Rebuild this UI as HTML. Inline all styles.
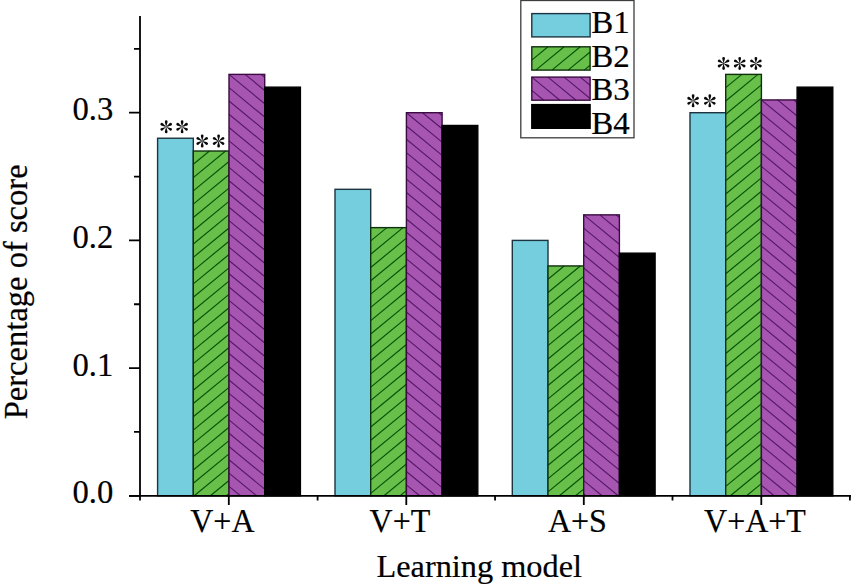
<!DOCTYPE html>
<html><head><meta charset="utf-8"><style>
html,body{margin:0;padding:0;background:#fff;overflow:hidden;}
svg{display:block;}
text{font-family:"Liberation Serif",serif;fill:#000;stroke:#000;stroke-width:0.2px;}
</style></head><body>
<svg width="851" height="587" viewBox="0 0 851 587">
<defs><g id="ast"><circle r="0.55"/><path d="M-0.25,-0.6C-0.5,-2.5 -1.35,-3.9 -1.35,-5.15A1.35,1.35 0 0 1 1.35,-5.15C1.35,-3.9 0.5,-2.5 0.25,-0.6Z" transform="rotate(0)"/><path d="M-0.25,-0.6C-0.5,-2.5 -1.35,-3.9 -1.35,-5.15A1.35,1.35 0 0 1 1.35,-5.15C1.35,-3.9 0.5,-2.5 0.25,-0.6Z" transform="rotate(60)"/><path d="M-0.25,-0.6C-0.5,-2.5 -1.35,-3.9 -1.35,-5.15A1.35,1.35 0 0 1 1.35,-5.15C1.35,-3.9 0.5,-2.5 0.25,-0.6Z" transform="rotate(120)"/><path d="M-0.25,-0.6C-0.5,-2.5 -1.35,-3.9 -1.35,-5.15A1.35,1.35 0 0 1 1.35,-5.15C1.35,-3.9 0.5,-2.5 0.25,-0.6Z" transform="rotate(180)"/><path d="M-0.25,-0.6C-0.5,-2.5 -1.35,-3.9 -1.35,-5.15A1.35,1.35 0 0 1 1.35,-5.15C1.35,-3.9 0.5,-2.5 0.25,-0.6Z" transform="rotate(240)"/><path d="M-0.25,-0.6C-0.5,-2.5 -1.35,-3.9 -1.35,-5.15A1.35,1.35 0 0 1 1.35,-5.15C1.35,-3.9 0.5,-2.5 0.25,-0.6Z" transform="rotate(300)"/></g></defs>
<rect x="157.6" y="138.24" width="35.7" height="357.56" fill="#75cede"/><rect x="157.6" y="138.24" width="35.7" height="357.56" fill="none" stroke="#1c3440" stroke-width="1.4"/><rect x="193.3" y="151.01" width="35.7" height="344.79" fill="#68bf4a"/><path d="M193.3,164.3L209.45,151.01M193.3,177.59L225.6,151.01M193.3,190.88L229,161.5M193.3,204.17L229,174.79M193.3,217.46L229,188.08M193.3,230.75L229,201.37M193.3,244.04L229,214.66M193.3,257.33L229,227.95M193.3,270.62L229,241.24M193.3,283.91L229,254.53M193.3,297.2L229,267.82M193.3,310.49L229,281.11M193.3,323.78L229,294.4M193.3,337.07L229,307.69M193.3,350.36L229,320.98M193.3,363.65L229,334.27M193.3,376.94L229,347.56M193.3,390.23L229,360.85M193.3,403.52L229,374.14M193.3,416.81L229,387.43M193.3,430.1L229,400.72M193.3,443.39L229,414.01M193.3,456.68L229,427.3M193.3,469.97L229,440.59M193.3,483.26L229,453.88M194.21,495.8L229,467.17M210.36,495.8L229,480.46M226.51,495.8L229,493.75" stroke="#075207" stroke-width="1.15" fill="none"/><rect x="193.3" y="151.01" width="35.7" height="344.79" fill="none" stroke="#0f300f" stroke-width="1.4"/><rect x="229" y="74.39" width="35.7" height="421.41" fill="#a656b0"/><path d="M261.3,74.39L264.7,77.19M245.15,74.39L264.7,90.48M229,74.39L264.7,103.77M229,87.68L264.7,117.06M229,100.97L264.7,130.35M229,114.26L264.7,143.64M229,127.55L264.7,156.93M229,140.84L264.7,170.22M229,154.13L264.7,183.51M229,167.42L264.7,196.8M229,180.71L264.7,210.09M229,194L264.7,223.38M229,207.29L264.7,236.67M229,220.58L264.7,249.96M229,233.87L264.7,263.25M229,247.16L264.7,276.54M229,260.45L264.7,289.83M229,273.74L264.7,303.12M229,287.03L264.7,316.41M229,300.32L264.7,329.7M229,313.61L264.7,342.99M229,326.9L264.7,356.28M229,340.19L264.7,369.57M229,353.48L264.7,382.86M229,366.77L264.7,396.15M229,380.06L264.7,409.44M229,393.35L264.7,422.73M229,406.64L264.7,436.02M229,419.93L264.7,449.31M229,433.22L264.7,462.6M229,446.51L264.7,475.89M229,459.8L264.7,489.18M229,473.09L256.6,495.8M229,486.38L240.45,495.8" stroke="#581868" stroke-width="1.15" fill="none"/><rect x="229" y="74.39" width="35.7" height="421.41" fill="none" stroke="#3a0c42" stroke-width="1.4"/><rect x="264.7" y="87.16" width="35.7" height="408.64" fill="#000000"/><rect x="264.7" y="87.16" width="35.7" height="408.64" fill="none" stroke="#000000" stroke-width="1.4"/><rect x="335" y="189.32" width="35.7" height="306.48" fill="#75cede"/><rect x="335" y="189.32" width="35.7" height="306.48" fill="none" stroke="#1c3440" stroke-width="1.4"/><rect x="370.7" y="227.63" width="35.7" height="268.17" fill="#68bf4a"/><path d="M370.7,240.92L386.85,227.63M370.7,254.21L403,227.63M370.7,267.5L406.4,238.12M370.7,280.79L406.4,251.41M370.7,294.08L406.4,264.7M370.7,307.37L406.4,277.99M370.7,320.66L406.4,291.28M370.7,333.95L406.4,304.57M370.7,347.24L406.4,317.86M370.7,360.53L406.4,331.15M370.7,373.82L406.4,344.44M370.7,387.11L406.4,357.73M370.7,400.4L406.4,371.02M370.7,413.69L406.4,384.31M370.7,426.98L406.4,397.6M370.7,440.27L406.4,410.89M370.7,453.56L406.4,424.18M370.7,466.85L406.4,437.47M370.7,480.14L406.4,450.76M370.7,493.43L406.4,464.05M383.97,495.8L406.4,477.34M400.12,495.8L406.4,490.63" stroke="#075207" stroke-width="1.15" fill="none"/><rect x="370.7" y="227.63" width="35.7" height="268.17" fill="none" stroke="#0f300f" stroke-width="1.4"/><rect x="406.4" y="112.7" width="35.7" height="383.1" fill="#a656b0"/><path d="M438.7,112.7L442.1,115.5M422.55,112.7L442.1,128.79M406.4,112.7L442.1,142.08M406.4,125.99L442.1,155.37M406.4,139.28L442.1,168.66M406.4,152.57L442.1,181.95M406.4,165.86L442.1,195.24M406.4,179.15L442.1,208.53M406.4,192.44L442.1,221.82M406.4,205.73L442.1,235.11M406.4,219.02L442.1,248.4M406.4,232.31L442.1,261.69M406.4,245.6L442.1,274.98M406.4,258.89L442.1,288.27M406.4,272.18L442.1,301.56M406.4,285.47L442.1,314.85M406.4,298.76L442.1,328.14M406.4,312.05L442.1,341.43M406.4,325.34L442.1,354.72M406.4,338.63L442.1,368.01M406.4,351.92L442.1,381.3M406.4,365.21L442.1,394.59M406.4,378.5L442.1,407.88M406.4,391.79L442.1,421.17M406.4,405.08L442.1,434.46M406.4,418.37L442.1,447.75M406.4,431.66L442.1,461.04M406.4,444.95L442.1,474.33M406.4,458.24L442.1,487.62M406.4,471.53L435.89,495.8M406.4,484.82L419.74,495.8" stroke="#581868" stroke-width="1.15" fill="none"/><rect x="406.4" y="112.7" width="35.7" height="383.1" fill="none" stroke="#3a0c42" stroke-width="1.4"/><rect x="442.1" y="125.47" width="35.7" height="370.33" fill="#000000"/><rect x="442.1" y="125.47" width="35.7" height="370.33" fill="none" stroke="#000000" stroke-width="1.4"/><rect x="512.3" y="240.4" width="35.7" height="255.4" fill="#75cede"/><rect x="512.3" y="240.4" width="35.7" height="255.4" fill="none" stroke="#1c3440" stroke-width="1.4"/><rect x="548" y="265.94" width="35.7" height="229.86" fill="#68bf4a"/><path d="M548,279.23L564.15,265.94M548,292.52L580.3,265.94M548,305.81L583.7,276.43M548,319.1L583.7,289.72M548,332.39L583.7,303.01M548,345.68L583.7,316.3M548,358.97L583.7,329.59M548,372.26L583.7,342.88M548,385.55L583.7,356.17M548,398.84L583.7,369.46M548,412.13L583.7,382.75M548,425.42L583.7,396.04M548,438.71L583.7,409.33M548,452L583.7,422.62M548,465.29L583.7,435.91M548,478.58L583.7,449.2M548,491.87L583.7,462.49M559.37,495.8L583.7,475.78M575.52,495.8L583.7,489.07" stroke="#075207" stroke-width="1.15" fill="none"/><rect x="548" y="265.94" width="35.7" height="229.86" fill="none" stroke="#0f300f" stroke-width="1.4"/><rect x="583.7" y="214.86" width="35.7" height="280.94" fill="#a656b0"/><path d="M616,214.86L619.4,217.66M599.85,214.86L619.4,230.95M583.7,214.86L619.4,244.24M583.7,228.15L619.4,257.53M583.7,241.44L619.4,270.82M583.7,254.73L619.4,284.11M583.7,268.02L619.4,297.4M583.7,281.31L619.4,310.69M583.7,294.6L619.4,323.98M583.7,307.89L619.4,337.27M583.7,321.18L619.4,350.56M583.7,334.47L619.4,363.85M583.7,347.76L619.4,377.14M583.7,361.05L619.4,390.43M583.7,374.34L619.4,403.72M583.7,387.63L619.4,417.01M583.7,400.92L619.4,430.3M583.7,414.21L619.4,443.59M583.7,427.5L619.4,456.88M583.7,440.79L619.4,470.17M583.7,454.08L619.4,483.46M583.7,467.37L618.25,495.8M583.7,480.66L602.1,495.8M583.7,493.95L585.95,495.8" stroke="#581868" stroke-width="1.15" fill="none"/><rect x="583.7" y="214.86" width="35.7" height="280.94" fill="none" stroke="#3a0c42" stroke-width="1.4"/><rect x="619.4" y="253.17" width="35.7" height="242.63" fill="#000000"/><rect x="619.4" y="253.17" width="35.7" height="242.63" fill="none" stroke="#000000" stroke-width="1.4"/><rect x="690" y="112.7" width="35.7" height="383.1" fill="#75cede"/><rect x="690" y="112.7" width="35.7" height="383.1" fill="none" stroke="#1c3440" stroke-width="1.4"/><rect x="725.7" y="74.39" width="35.7" height="421.41" fill="#68bf4a"/><path d="M725.7,87.68L741.85,74.39M725.7,100.97L758,74.39M725.7,114.26L761.4,84.88M725.7,127.55L761.4,98.17M725.7,140.84L761.4,111.46M725.7,154.13L761.4,124.75M725.7,167.42L761.4,138.04M725.7,180.71L761.4,151.33M725.7,194L761.4,164.62M725.7,207.29L761.4,177.91M725.7,220.58L761.4,191.2M725.7,233.87L761.4,204.49M725.7,247.16L761.4,217.78M725.7,260.45L761.4,231.07M725.7,273.74L761.4,244.36M725.7,287.03L761.4,257.65M725.7,300.32L761.4,270.94M725.7,313.61L761.4,284.23M725.7,326.9L761.4,297.52M725.7,340.19L761.4,310.81M725.7,353.48L761.4,324.1M725.7,366.77L761.4,337.39M725.7,380.06L761.4,350.68M725.7,393.35L761.4,363.97M725.7,406.64L761.4,377.26M725.7,419.93L761.4,390.55M725.7,433.22L761.4,403.84M725.7,446.51L761.4,417.13M725.7,459.8L761.4,430.42M725.7,473.09L761.4,443.71M725.7,486.38L761.4,457M730.4,495.8L761.4,470.29M746.55,495.8L761.4,483.58" stroke="#075207" stroke-width="1.15" fill="none"/><rect x="725.7" y="74.39" width="35.7" height="421.41" fill="none" stroke="#0f300f" stroke-width="1.4"/><rect x="761.4" y="99.93" width="35.7" height="395.87" fill="#a656b0"/><path d="M793.7,99.93L797.1,102.73M777.55,99.93L797.1,116.02M761.4,99.93L797.1,129.31M761.4,113.22L797.1,142.6M761.4,126.51L797.1,155.89M761.4,139.8L797.1,169.18M761.4,153.09L797.1,182.47M761.4,166.38L797.1,195.76M761.4,179.67L797.1,209.05M761.4,192.96L797.1,222.34M761.4,206.25L797.1,235.63M761.4,219.54L797.1,248.92M761.4,232.83L797.1,262.21M761.4,246.12L797.1,275.5M761.4,259.41L797.1,288.79M761.4,272.7L797.1,302.08M761.4,285.99L797.1,315.37M761.4,299.28L797.1,328.66M761.4,312.57L797.1,341.95M761.4,325.86L797.1,355.24M761.4,339.15L797.1,368.53M761.4,352.44L797.1,381.82M761.4,365.73L797.1,395.11M761.4,379.02L797.1,408.4M761.4,392.31L797.1,421.69M761.4,405.6L797.1,434.98M761.4,418.89L797.1,448.27M761.4,432.18L797.1,461.56M761.4,445.47L797.1,474.85M761.4,458.76L797.1,488.14M761.4,472.05L790.26,495.8M761.4,485.34L774.11,495.8" stroke="#581868" stroke-width="1.15" fill="none"/><rect x="761.4" y="99.93" width="35.7" height="395.87" fill="none" stroke="#3a0c42" stroke-width="1.4"/><rect x="797.1" y="87.16" width="35.7" height="408.64" fill="#000000"/><rect x="797.1" y="87.16" width="35.7" height="408.64" fill="none" stroke="#000000" stroke-width="1.4"/>
<path d="M140,16V500.5M129,495.8H851" stroke="#000" stroke-width="1.8" fill="none"/><path d="M129,495.8H140M129,368.1H140M129,240.4H140M129,112.7H140M134,431.95H140M134,304.25H140M134,176.55H140M134,48.85H140M228.8,495.8V505M406.3,495.8V505M583.8,495.8V505M761.3,495.8V505M317.6,495.8V500.5M495.05,495.8V500.5M672.5,495.8V500.5M849.9,495.8V500.5" stroke="#000" stroke-width="1.8" fill="none"/>
<text transform="matrix(1.02 0 0 1.04 72.53 503.29)" font-size="32">0.0</text><text transform="matrix(1.02 0 0 1.04 72.53 375.59)" font-size="32">0.1</text><text transform="matrix(1.02 0 0 1.04 72.53 247.89)" font-size="32">0.2</text><text transform="matrix(1.02 0 0 1.04 72.53 120.19)" font-size="32">0.3</text><text transform="matrix(1 0 0 1.03 190.25 531.7)" font-size="32">V+A</text><text transform="matrix(1 0 0 1.03 369.58 531.7)" font-size="32">V+T</text><text transform="matrix(1 0 0 1.03 547.96 531.7)" font-size="32">A+S</text><text transform="matrix(1 0 0 1.03 704.05 531.7)" font-size="32">V+A+T</text><text transform="matrix(1.01 0 0 1.01 376.49 576.7)" font-size="32">Learning model</text><text transform="translate(27.2 419.32) rotate(-90) scale(1.018 1.024)" font-size="32">Percentage of score</text>
<rect x="520.8" y="0.5" width="113.2" height="137.3" fill="#fff" stroke="#3c3c3c" stroke-width="1.3"/><rect x="531.8" y="13.6" width="58.3" height="23.3" fill="#75cede"/><rect x="531.8" y="13.6" width="58.3" height="23.3" fill="none" stroke="#1c3440" stroke-width="1.4"/><text transform="matrix(1 0 0 0.98 591.27 33.3)" font-size="33">B1</text><rect x="531.8" y="46.8" width="58.3" height="23.3" fill="#68bf4a"/><path d="M531.8,60.09L547.95,46.8M535.79,70.1L564.1,46.8M551.94,70.1L580.25,46.8M568.09,70.1L590.1,51.98M584.24,70.1L590.1,65.27" stroke="#075207" stroke-width="1.15" fill="none"/><rect x="531.8" y="46.8" width="58.3" height="23.3" fill="none" stroke="#0f300f" stroke-width="1.4"/><text transform="matrix(1 0 0 0.98 591.27 66.73)" font-size="33">B2</text><rect x="531.8" y="77.1" width="58.3" height="23.1" fill="#a656b0"/><path d="M580.25,77.1L590.1,85.21M564.1,77.1L590.1,98.5M547.95,77.1L576.02,100.2M531.8,77.1L559.87,100.2M531.8,90.39L543.72,100.2" stroke="#581868" stroke-width="1.15" fill="none"/><rect x="531.8" y="77.1" width="58.3" height="23.1" fill="none" stroke="#3a0c42" stroke-width="1.4"/><text transform="matrix(1 0 0 0.98 591.27 100.16)" font-size="33">B3</text><rect x="531.8" y="104.6" width="58.3" height="23.7" fill="#000000"/><rect x="531.8" y="104.6" width="58.3" height="23.7" fill="none" stroke="#000000" stroke-width="1.4"/><text transform="matrix(1 0 0 0.98 591.27 133.59)" font-size="33">B4</text>
<g fill="#0a0a0a"><use href="#ast" x="166.2" y="126.8"/><use href="#ast" x="182.1" y="126.8"/><use href="#ast" x="202.2" y="141.0"/><use href="#ast" x="218.6" y="141.0"/><use href="#ast" x="693.1" y="100.8"/><use href="#ast" x="709.8" y="100.8"/><use href="#ast" x="723.6" y="63.4"/><use href="#ast" x="739.7" y="63.4"/><use href="#ast" x="755.9" y="63.4"/></g>
</svg>
</body></html>
